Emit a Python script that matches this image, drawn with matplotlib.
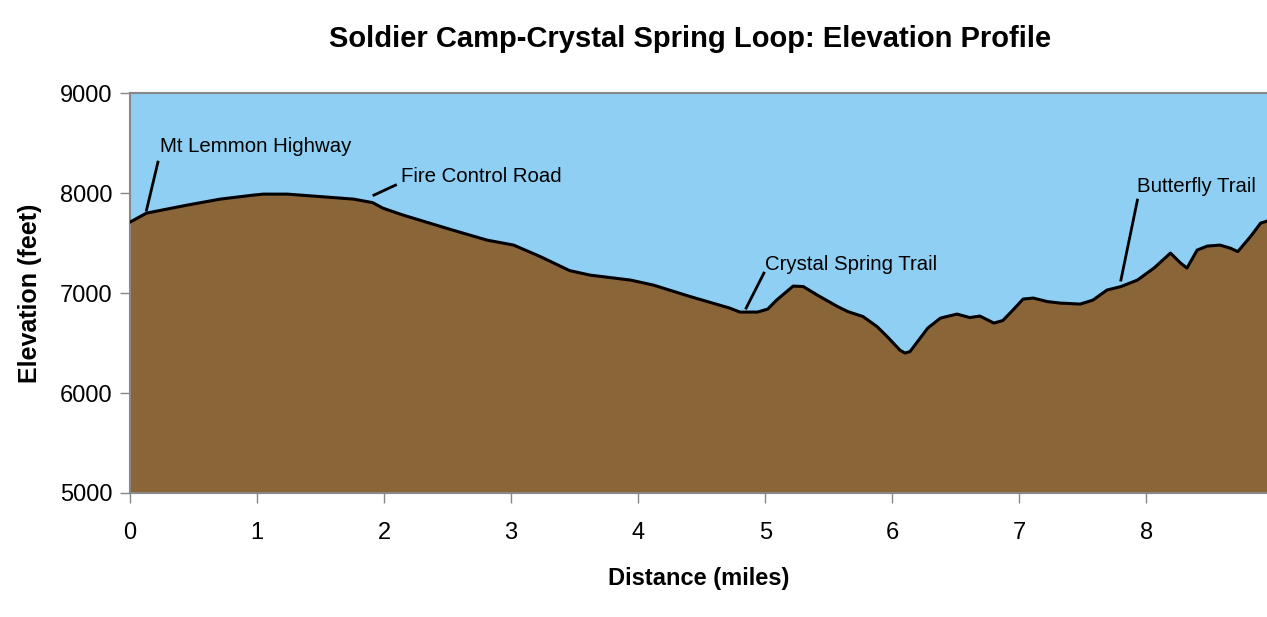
import matplotlib
matplotlib.use("Agg")
import matplotlib.pyplot as plt

plt.rcParams['font.family'] = ['Liberation Sans', 'DejaVu Sans']

distance = [0.00, 0.13, 0.45, 0.71, 0.97, 1.05, 1.24, 1.50, 1.76, 1.91, 1.99, 2.15,
            2.54, 2.81, 3.02, 3.23, 3.46, 3.62, 3.94, 4.12, 4.41, 4.72, 4.80, 4.94,
            5.02, 5.09, 5.22, 5.30, 5.41, 5.57, 5.65, 5.77, 5.88, 5.96, 6.06, 6.10,
            6.14, 6.28, 6.38, 6.51, 6.61, 6.69, 6.80, 6.87, 6.95, 7.03, 7.11, 7.22,
            7.32, 7.48, 7.58, 7.69, 7.80, 7.93, 8.06, 8.19, 8.27, 8.32, 8.40, 8.48,
            8.58, 8.66, 8.72, 8.82, 8.90, 8.95]
elevation = [7710, 7800, 7880, 7940, 7980, 7990, 7990, 7965, 7940, 7905, 7850, 7780,
             7630, 7530, 7480, 7365, 7225, 7180, 7130, 7080, 6965, 6850, 6810, 6810,
             6840, 6930, 7070, 7065, 6980, 6865, 6815, 6765, 6665, 6565, 6430, 6400,
             6415, 6650, 6750, 6790, 6755, 6770, 6700, 6725, 6830, 6940, 6950, 6915,
             6900, 6890, 6930, 7030, 7065, 7130, 7250, 7400, 7300, 7250, 7430, 7470,
             7480, 7450, 7415, 7565, 7700, 7720]

x_ticks = [0, 1, 2, 3, 4, 5, 6, 7, 8]
y_ticks = [5000, 6000, 7000, 8000, 9000]

labels = ["Mt Lemmon Highway", "Fire Control Road", "Crystal Spring Trail", "Butterfly Trail"]
label_point = [(0.13, 7830), (1.92, 7980), (4.85, 6850), (7.80, 7130)]
label_line_end = [(0.22, 8310), (2.09, 8080), (4.99, 7200), (7.93, 7930)]
label_text_pos = [(0.235, 8470), (2.13, 8170), (5.0, 7290), (7.93, 8070)]

sky = '#8ECFF3'
ground = '#8A6537'

fig = plt.figure(figsize=(12.67, 6.17), dpi=100)
ax = fig.add_axes([0.1026, 0.201, 0.8974, 0.648])
ax.set_facecolor(sky)
ax.fill_between(distance, 5000, elevation, color=ground, lw=0, zorder=2)
ax.plot(distance, elevation, color='black', lw=2.2, solid_joinstyle='round', zorder=3)

for lab, p, e, t in zip(labels, label_point, label_line_end, label_text_pos):
    ax.plot([p[0], e[0]], [p[1], e[1]], color='black', lw=2, zorder=4)
    ax.text(t[0], t[1], lab, fontsize=14.7, ha='left', va='center', zorder=5)

ax.set_xlim(0, 8.95)
ax.set_ylim(5000, 9000)
ax.set_xticks(x_ticks)
ax.set_yticks(y_ticks)
ax.tick_params(axis='both', colors='#888888', labelcolor='black', labelsize=17, length=7, width=1)
ax.tick_params(axis='x', pad=14)
ax.tick_params(axis='y', pad=5.5)
for s in ['left', 'bottom', 'top']:
    ax.spines[s].set_color('#888888')
    ax.spines[s].set_linewidth(1.5)
ax.spines['right'].set_visible(False)

ax.set_xlabel('Distance (miles)', fontsize=17, fontweight='bold', labelpad=16.5)
ax.set_ylabel('Elevation (feet)', fontsize=18, fontweight='bold', labelpad=13)
fig.text(0.545, 0.937, 'Soldier Camp-Crystal Spring Loop: Elevation Profile',
         fontsize=21, fontweight='bold', ha='center', va='center')

fig.savefig('out.png', dpi=100)
